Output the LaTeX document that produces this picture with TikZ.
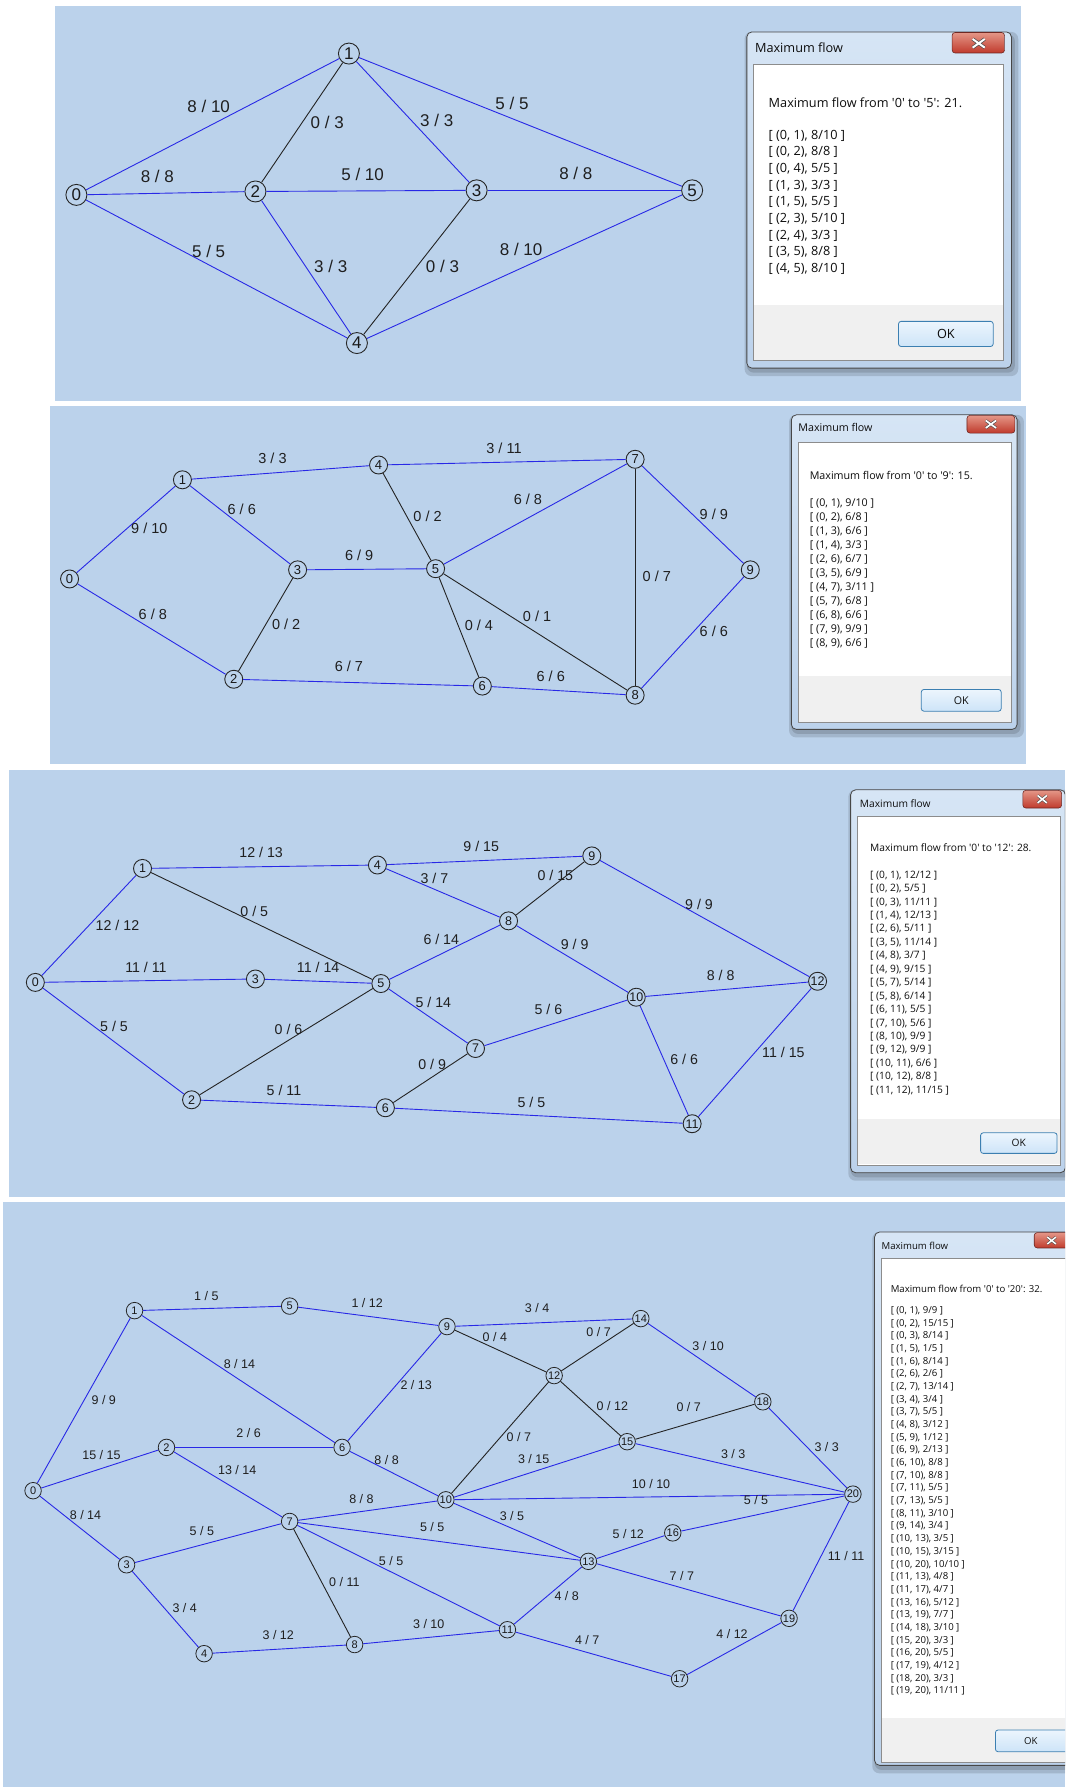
\documentclass[tikz,border=0pt]{standalone}
\usepackage{fontspec}
\setmainfont{Liberation Sans}
\newfontfamily\dlgfont{Open Sans}
\definecolor{bgblue}{RGB}{187,210,235}
\definecolor{eblue}{RGB}{40,40,230}
\definecolor{eblack}{RGB}{35,35,35}
\definecolor{frametop}{RGB}{214,229,245}
\definecolor{framebot}{RGB}{188,210,235}
\definecolor{closetop}{RGB}{228,150,135}
\definecolor{closebot}{RGB}{192,58,44}
\definecolor{closeedge}{RGB}{110,40,35}
\definecolor{okedge}{RGB}{60,127,177}
\definecolor{oktop}{RGB}{236,245,253}
\definecolor{okbot}{RGB}{205,228,248}
\tikzset{
 fe/.style={draw=eblue, line width=0.9pt},
 ze/.style={draw=eblack, line width=0.9pt},
 vA/.style={circle, draw=black!85, line width=0.9pt, fill=bgblue, inner sep=0pt, minimum size=21pt, text=black!90, font=\fontsize{17}{17}\selectfont},
 vB/.style={vA, minimum size=18pt, font=\fontsize{13}{13}\selectfont},
 vC/.style={vA, minimum size=18pt, font=\fontsize{12.5}{12.5}\selectfont},
 vD/.style={vA, minimum size=16.5pt, line width=0.8pt, font=\fontsize{11}{11}\selectfont},
 lA/.style={inner sep=0pt, text=black!88, font=\fontsize{17}{17}\selectfont},
 lB/.style={lA, font=\fontsize{14.5}{14.5}\selectfont},
 lC/.style={lA, font=\fontsize{14.2}{14.2}\selectfont},
 lD/.style={lA, font=\fontsize{12.5}{12.5}\selectfont},
 panel/.style={fill=bgblue},
 dshadow/.style={fill=black, opacity=0.13, rounded corners=7pt},
 dframe/.style={draw=black!72, line width=0.8pt, rounded corners=5pt, top color=frametop, bottom color=framebot},
 dclient/.style={fill=white, draw=black!45, line width=0.5pt},
 dgray/.style={fill=black!6},
 dclose/.style={draw=closeedge, line width=0.6pt, rounded corners=3pt, top color=closetop, bottom color=closebot},
 xout/.style={draw=black!70, line width=3.4pt},
 xin/.style={draw=white, line width=2pt},
 dok/.style={draw=okedge, line width=0.8pt, rounded corners=2.5pt, top color=oktop, bottom color=okbot},
 dtxt/.style={anchor=west, inner sep=0pt, text=black!95},
 dA/.style={dtxt, font=\dlgfont\fontsize{12.7}{14}\selectfont},
 dB/.style={dtxt, font=\dlgfont\fontsize{10.7}{12}\selectfont},
 dC/.style={dtxt, font=\dlgfont\fontsize{10.2}{12}\selectfont},
 dD/.style={dtxt, font=\dlgfont\fontsize{9.6}{11}\selectfont},
}
\begin{document}
\begin{tikzpicture}[x=1.14026pt,y=-1.13967pt]
\useasboundingbox (0,0) rectangle (934,1568);
\fill[white] (0,0) rectangle (934,1568);
\begin{scope}
\clip (0,0) rectangle (934,1568);
% ---------------- panel backgrounds
\fill[panel] (48,5) rectangle (895,352);
\fill[panel] (44,356) rectangle (900,670);
\fill[panel] (8,676) rectangle (934,1050);
\fill[panel] (3,1055) rectangle (934,1568);

% ================= PANEL 1
\foreach \n/\x/\y in {0/67/171,1/306/47,2/224/168,3/418/167,4/313/301,5/607/167}
  \node[vA] (a\n) at (\x,\y) {\n};
\foreach \p/\q in {0/1,0/2,0/4,1/3,1/5,2/3,2/4,3/5,4/5}
  \draw[fe] (a\p) -- (a\q);
\foreach \p/\q in {1/2,3/4}
  \draw[ze] (a\p) -- (a\q);
\foreach \p/\q/\x/\y/\f/\c in {0/1/183/93/8/10, 0/2/138/155/8/8, 0/4/183/221/5/5,
  1/2/287/107/0/3, 1/3/383/106/3/3, 1/5/449/91/5/5, 2/3/318/153/5/10,
  2/4/290/234/3/3, 3/4/388/234/0/3, 3/5/505/152/8/8, 4/5/457/219/8/10}
  \node[lA] (la\p-\q) at (\x,\y) {\f{} / \c};

% ================= PANEL 2
\foreach \n/\x/\y in {0/61/508,1/160/421,2/205/596,3/261/500,4/332/408,5/382/499,6/423/602,7/557/403,8/557/610,9/658/500}
  \node[vB] (b\n) at (\x,\y) {\n};
\foreach \p/\q in {0/1,0/2,1/3,1/4,2/6,3/5,4/7,5/7,6/8,7/9,8/9}
  \draw[fe] (b\p) -- (b\q);
\foreach \p/\q in {2/3,4/5,5/6,5/8,7/8}
  \draw[ze] (b\p) -- (b\q);
\foreach \p/\q/\x/\y/\f/\c in {0/1/131/464/9/10, 0/2/134/539/6/8, 1/3/212/447/6/6,
  1/4/239/402/3/3, 2/3/251/548/0/2, 2/6/306/585/6/7, 3/5/315/487/6/9,
  4/5/375/453/0/2, 4/7/442/393/3/11, 5/7/463/438/6/8, 5/6/420/549/0/4,
  5/8/471/541/0/1, 6/8/483/593/6/6, 7/8/576/506/0/7, 7/9/626/451/9/9, 8/9/626/554/6/6}
  \node[lB] (lb\p-\q) at (\x,\y) {\f{} / \c};

% ================= PANEL 3
\foreach \n/\x/\y in {0/31/862,1/125/762,2/168/965,3/224/859,4/331/759,5/334/863,6/338/972,
  7/417/920,8/446/808,9/519/751,10/558/875,11/607/986,12/717/861}
  \node[vC] (c\n) at (\x,\y) {\n};
\foreach \p/\q in {0/1,0/2,0/3,1/4,2/6,3/5,4/8,4/9,5/7,5/8,6/11,7/10,8/10,9/12,10/11,10/12,11/12}
  \draw[fe] (c\p) -- (c\q);
\foreach \p/\q in {1/5,2/5,6/7,8/9}
  \draw[ze] (c\p) -- (c\q);
\foreach \p/\q/\x/\y/\f/\c in {0/1/103/812/12/12, 0/2/100/901/5/5, 0/3/128/849/11/11,
  1/4/229/748/12/13, 1/5/223/800/0/5, 2/5/253/903/0/6, 2/6/249/957/5/11,
  3/5/279/849/11/14, 4/8/381/771/3/7, 4/9/422/743/9/15, 5/7/380/880/5/14,
  5/8/387/824/6/14, 6/7/379/934/0/9, 6/11/466/967/5/5, 7/10/481/886/5/6,
  8/9/487/768/0/15, 8/10/504/829/9/9, 9/12/613/794/9/9, 10/11/600/930/6/6,
  10/12/632/856/8/8, 11/12/687/923/11/15}
  \node[lC] (lc\p-\q) at (\x,\y) {\f{} / \c};

% ================= PANEL 4
\foreach \n/\x/\y in {0/29/1308,1/118/1150,2/146/1270,3/111/1373,4/179/1451,5/254/1146,
  6/300/1270,7/254/1335,8/311/1443,9/392/1164,10/391/1316,11/445/1430,12/486/1207,
  13/516/1370,14/562/1157,15/550/1265,16/590/1345,17/596/1473,18/669/1230,19/692/1420,20/748/1311}
  \node[vD] (d\n) at (\x,\y) {\n};
\foreach \p/\q in {0/1,0/2,0/3,1/5,1/6,2/6,2/7,3/4,3/7,4/8,5/9,6/9,6/10,7/10,7/11,7/13,
  8/11,9/14,10/13,10/15,10/20,11/13,11/17,13/16,13/19,14/18,15/20,16/20,17/19,18/20,19/20}
  \draw[fe] (d\p) -- (d\q);
\foreach \p/\q in {9/12,12/14,12/15,15/18,10/12,7/8}
  \draw[ze] (d\p) -- (d\q);
\foreach \p/\q/\x/\y/\f/\c in {0/1/91/1228/9/9, 0/2/89/1277/15/15, 0/3/75/1329/8/14,
  1/5/181/1137/1/5, 1/6/210/1197/8/14, 2/6/218/1257/2/6, 2/7/208/1290/13/14,
  3/4/162/1411/3/4, 3/7/177/1343/5/5, 4/8/244/1435/3/12, 5/9/322/1143/1/12,
  6/9/365/1215/2/13, 6/10/339/1281/8/8, 7/10/317/1315/8/8, 7/11/343/1370/5/5,
  7/13/379/1340/5/5, 8/11/376/1425/3/10, 9/14/471/1148/3/4, 10/13/449/1330/3/5,
  10/15/468/1280/3/15, 10/20/571/1302/10/10, 11/13/497/1400/4/8, 11/17/515/1439/4/7,
  13/16/551/1346/5/12, 13/19/598/1383/7/7, 14/18/621/1181/3/10, 15/20/643/1276/3/3,
  16/20/663/1316/5/5, 17/19/642/1434/4/12, 18/20/725/1270/3/3, 19/20/742/1365/11/11,
  9/12/434/1173/0/4, 12/14/525/1169/0/7, 12/15/537/1234/0/12, 15/18/604/1235/0/7,
  10/12/455/1261/0/7, 7/8/302/1388/0/11}
  \node[lD] (ld\p-\q) at (\x,\y) {\f{} / \c};

% ================= DIALOG 1
\fill[dshadow] (653,28) rectangle (893,330);
\fill[dshadow] (655,30) rectangle (890,327);
\path[dframe] (655,28) rectangle (887,323);
\path[dclient] (661,56) rectangle (880,316);
\fill[dgray] (661.3,268) rectangle (879.7,315.7);
\node[dA] (t1) at (662,42) {Maximum flow};
\path[dclose] (835,28.5) rectangle (881,46.5);
\foreach \s in {xout,xin}
  \draw[\s] (853,34.2) -- (863.6,41.8) (853,41.8) -- (863.6,34.2);
\node[dA] (h1) at (674,90) {Maximum flow from \textquotesingle0\textquotesingle{} to \textquotesingle5\textquotesingle: 21.};
\foreach \t [count=\k from 0] in {{[ (0, 1), 8/10 ]},{[ (0, 2), 8/8 ]},{[ (0, 4), 5/5 ]},
  {[ (1, 3), 3/3 ]},{[ (1, 5), 5/5 ]},{[ (2, 3), 5/10 ]},{[ (2, 4), 3/3 ]},
  {[ (3, 5), 8/8 ]},{[ (4, 5), 8/10 ]}}
  \node[dA] (r1-\k) at (674,{119+14.6*\k}) {\t};
\path[dok] (788,282) rectangle (871,304);
\node[dA, anchor=center] (ok1) at (829.5,293) {OK};

% ================= DIALOG 2
\fill[dshadow] (692,364) rectangle (898,647);
\fill[dshadow] (694,366) rectangle (895,644);
\path[dframe] (694,364) rectangle (892,640);
\path[dclient] (700,388) rectangle (887,634);
\fill[dgray] (700.3,593) rectangle (886.7,633.7);
\node[dB] (t2) at (700,375) {Maximum flow};
\path[dclose] (848,364.5) rectangle (890,380);
\begin{scope}[xout/.append style={line width=2.9pt}, xin/.append style={line width=1.7pt}]
\foreach \s in {xout,xin}
  \draw[\s] (864.5,369) -- (873.5,375.5) (864.5,375.5) -- (873.5,369);
\end{scope}
\node[dB] (h2) at (710,417) {Maximum flow from \textquotesingle0\textquotesingle{} to \textquotesingle9\textquotesingle: 15.};
\foreach \t [count=\k from 0] in {{[ (0, 1), 9/10 ]},{[ (0, 2), 6/8 ]},{[ (1, 3), 6/6 ]},
  {[ (1, 4), 3/3 ]},{[ (2, 6), 6/7 ]},{[ (3, 5), 6/9 ]},{[ (4, 7), 3/11 ]},
  {[ (5, 7), 6/8 ]},{[ (6, 8), 6/6 ]},{[ (7, 9), 9/9 ]},{[ (8, 9), 6/6 ]}}
  \node[dB] (r2-\k) at (710,{442+12.3*\k}) {\t};
\path[dok] (808,605) rectangle (878,624);
\node[dB, anchor=center] (ok2) at (843,614.5) {OK};

% ================= DIALOG 3
\fill[dshadow] (744,693) rectangle (940,1036);
\fill[dshadow] (746,695) rectangle (940,1033);
\path[dframe] (746,693) rectangle (934.3,1029);
\path[dclient] (752,716) rectangle (930,1022);
\fill[dgray] (752.3,982) rectangle (929.7,1021.7);
\node[dC] (t3) at (754,705) {Maximum flow};
\path[dclose] (897,693.5) rectangle (931,709);
\begin{scope}[xout/.append style={line width=2.7pt}, xin/.append style={line width=1.6pt}]
\foreach \s in {xout,xin}
  \draw[\s] (910,698) -- (918,704.5) (910,704.5) -- (918,698);
\end{scope}
\node[dC] (h3) at (763,744) {Maximum flow from \textquotesingle0\textquotesingle{} to \textquotesingle12\textquotesingle: 28.};
\foreach \t [count=\k from 0] in {{[ (0, 1), 12/12 ]},{[ (0, 2), 5/5 ]},{[ (0, 3), 11/11 ]},
  {[ (1, 4), 12/13 ]},{[ (2, 6), 5/11 ]},{[ (3, 5), 11/14 ]},{[ (4, 8), 3/7 ]},
  {[ (4, 9), 9/15 ]},{[ (5, 7), 5/14 ]},{[ (5, 8), 6/14 ]},{[ (6, 11), 5/5 ]},
  {[ (7, 10), 5/6 ]},{[ (8, 10), 9/9 ]},{[ (9, 12), 9/9 ]},{[ (10, 11), 6/6 ]},
  {[ (10, 12), 8/8 ]},{[ (11, 12), 11/15 ]}}
  \node[dC] (r3-\k) at (763,{768+11.8*\k}) {\t};
\path[dok] (860,994) rectangle (927,1012);
\node[dC, anchor=center] (ok3) at (893.5,1003) {OK};

% ================= DIALOG 4
\fill[dshadow] (765,1081) rectangle (960,1556);
\fill[dshadow] (767,1083) rectangle (960,1553);
\path[dframe] (767,1081) rectangle (955,1549);
\path[dclient] (773,1104) rectangle (950,1546);
\fill[dgray] (773.3,1507) rectangle (949.7,1545.7);
\node[dD] (t4) at (773,1093) {Maximum flow};
\path[dclose] (907,1081.5) rectangle (945,1095);
\begin{scope}[xout/.append style={line width=2.6pt}, xin/.append style={line width=1.5pt}]
\foreach \s in {xout,xin}
  \draw[\s] (918.5,1085.5) -- (926,1091.5) (918.5,1091.5) -- (926,1085.5);
\end{scope}
\node[dD] (h4) at (781,1131) {Maximum flow from \textquotesingle0\textquotesingle{} to \textquotesingle20\textquotesingle: 32.};
\foreach \t [count=\k from 0] in {{[ (0, 1), 9/9 ]},{[ (0, 2), 15/15 ]},{[ (0, 3), 8/14 ]},
  {[ (1, 5), 1/5 ]},{[ (1, 6), 8/14 ]},{[ (2, 6), 2/6 ]},{[ (2, 7), 13/14 ]},
  {[ (3, 4), 3/4 ]},{[ (3, 7), 5/5 ]},{[ (4, 8), 3/12 ]},{[ (5, 9), 1/12 ]},
  {[ (6, 9), 2/13 ]},{[ (6, 10), 8/8 ]},{[ (7, 10), 8/8 ]},{[ (7, 11), 5/5 ]},
  {[ (7, 13), 5/5 ]},{[ (8, 11), 3/10 ]},{[ (9, 14), 3/4 ]},{[ (10, 13), 3/5 ]},
  {[ (10, 15), 3/15 ]},{[ (10, 20), 10/10 ]},{[ (11, 13), 4/8 ]},{[ (11, 17), 4/7 ]},
  {[ (13, 16), 5/12 ]},{[ (13, 19), 7/7 ]},{[ (14, 18), 3/10 ]},{[ (15, 20), 3/3 ]},
  {[ (16, 20), 5/5 ]},{[ (17, 19), 4/12 ]},{[ (18, 20), 3/3 ]},{[ (19, 20), 11/11 ]}}
  \node[dD] (r4-\k) at (781,{1150+11.13*\k}) {\t};
\path[dok] (873,1518) rectangle (940,1537);
\node[dD, anchor=center] (ok4) at (904,1527.5) {OK};
\end{scope}
\end{tikzpicture}
\end{document}
